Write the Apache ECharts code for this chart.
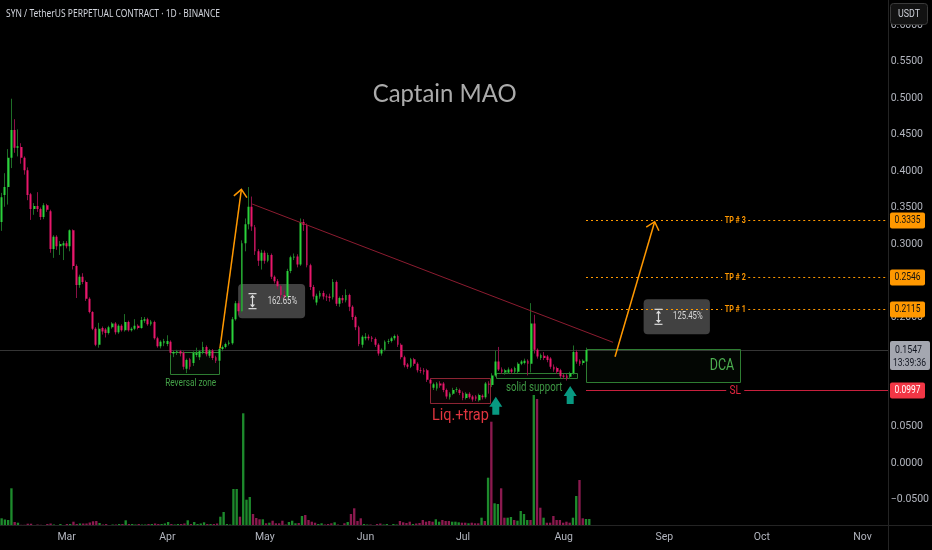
<!DOCTYPE html>
<html><head><meta charset="utf-8">
<script src="https://cdn.jsdelivr.net/npm/echarts@6/dist/echarts.min.js"></script>
<style>html,body{margin:0;padding:0;background:#000;}#c{width:932px;height:550px;}</style>
</head><body><div id="c"></div>
<script>
// ---------------- DATA ----------------
const startYear = 2024, startMonth = 1, startDay = 10;   // first daily candle: 10 Feb 2024
const dayCount = 272;                                      // visible days on the axis (to early Nov)
const monthNames = ['Jan','Feb','Mar','Apr','May','Jun','Jul','Aug','Sep','Oct','Nov','Dec'];

const opens = [
0.330,0.367,0.378,0.418,0.456,0.432,0.433,0.418,0.401,0.368,
0.348,0.352,0.348,0.337,0.353,0.345,0.293,0.310,0.297,0.298,
0.301,0.297,0.319,0.270,0.244,0.255,0.248,0.225,0.207,0.184,
0.162,0.185,0.183,0.178,0.186,0.191,0.179,0.188,0.182,0.193,
0.182,0.184,0.188,0.185,0.195,0.197,0.190,0.193,0.171,0.160,
0.164,0.163,0.166,0.150,0.151,0.153,0.151,0.129,0.142,0.137,
0.148,0.145,0.151,0.159,0.147,0.154,0.145,0.140,0.156,0.159,
0.163,0.164,0.197,0.219,0.208,0.301,0.327,0.351,0.323,0.290,
0.277,0.288,0.277,0.285,0.255,0.249,0.242,0.230,0.228,0.263,
0.281,0.283,0.272,0.330,0.326,0.271,0.241,0.220,0.228,0.233,
0.228,0.228,0.227,0.248,0.218,0.226,0.223,0.230,0.214,0.200,
0.186,0.162,0.171,0.173,0.172,0.170,0.162,0.150,0.155,0.166,
0.167,0.171,0.174,0.162,0.145,0.135,0.132,0.142,0.136,0.127,
0.127,0.127,0.114,0.103,0.102,0.109,0.109,0.100,0.090,0.095,
0.100,0.100,0.096,0.089,0.095,0.091,0.091,0.086,0.092,0.090,
0.109,0.107,0.120,0.139,0.128,0.124,0.124,0.128,0.125,0.125,
0.136,0.137,0.140,0.136,0.191,0.155,0.144,0.147,0.146,0.143,
0.132,0.130,0.127,0.120,0.120,0.118,0.123,0.152,0.140,0.137,
0.139];
const closes = [
0.364,0.378,0.418,0.456,0.432,0.434,0.418,0.401,0.367,0.348,
0.352,0.348,0.337,0.353,0.347,0.293,0.310,0.297,0.300,0.301,
0.297,0.319,0.270,0.244,0.255,0.248,0.225,0.207,0.184,0.162,
0.184,0.180,0.178,0.186,0.191,0.179,0.188,0.182,0.193,0.182,
0.184,0.188,0.185,0.196,0.197,0.190,0.194,0.171,0.160,0.166,
0.167,0.167,0.151,0.152,0.153,0.150,0.132,0.141,0.132,0.151,
0.151,0.153,0.159,0.149,0.154,0.144,0.140,0.156,0.159,0.163,
0.165,0.197,0.219,0.208,0.301,0.327,0.351,0.324,0.290,0.277,
0.288,0.277,0.285,0.255,0.249,0.242,0.230,0.228,0.263,0.282,
0.283,0.272,0.330,0.326,0.271,0.241,0.228,0.229,0.233,0.228,
0.227,0.226,0.248,0.218,0.226,0.223,0.230,0.214,0.200,0.186,
0.163,0.173,0.173,0.171,0.170,0.162,0.150,0.155,0.166,0.167,
0.171,0.174,0.162,0.145,0.134,0.132,0.142,0.136,0.127,0.126,
0.125,0.114,0.109,0.108,0.109,0.106,0.100,0.091,0.095,0.100,
0.101,0.096,0.089,0.095,0.090,0.087,0.088,0.093,0.090,0.109,
0.107,0.120,0.139,0.128,0.125,0.127,0.128,0.125,0.130,0.136,
0.139,0.140,0.136,0.191,0.155,0.146,0.148,0.144,0.141,0.132,
0.128,0.125,0.119,0.118,0.116,0.123,0.152,0.139,0.136,0.140,
0.1547];
const lows = [
0.318,0.351,0.354,0.404,0.425,0.420,0.410,0.395,0.360,0.333,
0.340,0.344,0.333,0.334,0.344,0.288,0.281,0.292,0.285,0.278,
0.294,0.290,0.265,0.226,0.240,0.245,0.222,0.205,0.182,0.160,
0.158,0.176,0.172,0.176,0.184,0.176,0.177,0.180,0.180,0.180,
0.180,0.182,0.183,0.184,0.192,0.188,0.188,0.169,0.158,0.157,
0.160,0.160,0.148,0.145,0.148,0.146,0.128,0.123,0.128,0.133,
0.145,0.141,0.149,0.146,0.144,0.141,0.137,0.138,0.153,0.157,
0.161,0.162,0.195,0.203,0.206,0.290,0.320,0.318,0.285,0.270,
0.265,0.273,0.275,0.252,0.246,0.238,0.226,0.224,0.226,0.260,
0.278,0.268,0.270,0.318,0.268,0.237,0.224,0.216,0.225,0.224,
0.222,0.221,0.224,0.215,0.214,0.219,0.220,0.208,0.196,0.182,
0.160,0.158,0.168,0.168,0.166,0.159,0.147,0.147,0.153,0.163,
0.165,0.168,0.159,0.142,0.131,0.129,0.130,0.133,0.124,0.123,
0.121,0.111,0.105,0.100,0.099,0.103,0.097,0.088,0.087,0.093,
0.097,0.093,0.086,0.087,0.088,0.084,0.085,0.084,0.087,0.088,
0.095,0.104,0.118,0.126,0.122,0.121,0.122,0.122,0.123,0.123,
0.134,0.135,0.120,0.124,0.150,0.143,0.141,0.141,0.138,0.129,
0.125,0.122,0.116,0.115,0.113,0.115,0.121,0.136,0.133,0.134,
0.137];
const highs = [
0.370,0.397,0.430,0.499,0.471,0.457,0.438,0.420,0.405,0.370,
0.356,0.371,0.350,0.356,0.355,0.347,0.312,0.312,0.304,0.304,
0.304,0.320,0.320,0.272,0.258,0.260,0.250,0.227,0.208,0.186,
0.192,0.187,0.185,0.188,0.193,0.193,0.190,0.190,0.204,0.195,
0.186,0.197,0.190,0.200,0.200,0.199,0.196,0.195,0.173,0.168,
0.170,0.175,0.168,0.154,0.155,0.155,0.153,0.143,0.144,0.153,
0.158,0.155,0.166,0.161,0.156,0.156,0.147,0.158,0.161,0.165,
0.168,0.200,0.222,0.222,0.305,0.335,0.378,0.365,0.326,0.293,
0.292,0.291,0.288,0.287,0.257,0.252,0.244,0.236,0.266,0.284,
0.287,0.286,0.335,0.334,0.328,0.273,0.244,0.232,0.236,0.236,
0.231,0.232,0.252,0.250,0.228,0.230,0.238,0.232,0.216,0.202,
0.188,0.175,0.178,0.176,0.174,0.172,0.164,0.157,0.168,0.170,
0.173,0.176,0.176,0.164,0.147,0.137,0.144,0.144,0.138,0.131,
0.130,0.129,0.116,0.110,0.111,0.112,0.111,0.102,0.097,0.103,
0.104,0.102,0.098,0.097,0.097,0.093,0.093,0.095,0.094,0.111,
0.112,0.123,0.154,0.159,0.131,0.129,0.131,0.130,0.132,0.138,
0.141,0.143,0.142,0.219,0.203,0.157,0.150,0.152,0.148,0.145,
0.135,0.132,0.129,0.122,0.122,0.125,0.161,0.155,0.142,0.142,
0.158];
// volume, millions
const volumes = [
0.77,0.65,0.60,3.77,0.40,0.33,0.12,0.12,0.23,0.23,
0.10,0.15,0.12,0.10,0.20,0.25,0.15,0.10,0.20,0.10,
0.20,0.20,0.43,0.20,0.25,0.25,0.25,0.35,0.47,0.50,
0.30,0.15,0.20,0.10,0.15,0.15,0.20,0.20,0.57,0.20,
0.20,0.15,0.20,0.15,0.15,0.20,0.20,0.25,0.20,0.20,
0.25,0.40,0.20,0.15,0.20,0.20,0.25,0.57,0.20,0.40,
0.20,0.25,0.37,0.20,0.20,0.20,0.25,0.93,1.40,0.20,
0.15,3.70,3.70,0.93,11.27,2.63,2.90,1.20,0.80,0.67,
0.67,0.27,0.33,0.53,0.27,0.27,0.53,0.15,0.40,0.53,
0.27,0.30,1.00,1.10,0.60,0.43,0.33,0.20,0.27,0.15,
0.20,0.27,0.37,0.15,0.10,0.27,0.40,1.20,1.77,0.50,
0.77,0.20,0.15,0.15,0.10,0.20,0.25,0.15,0.20,0.10,
0.20,0.15,0.50,0.37,0.30,0.43,0.20,0.25,0.30,0.60,
0.43,0.50,0.43,0.67,0.43,0.60,0.50,0.50,0.43,0.43,
0.37,0.33,0.33,0.27,0.33,0.27,0.27,0.83,0.50,4.83,
10.43,2.27,2.20,3.77,0.83,0.83,0.90,0.60,0.53,1.50,
1.20,0.60,0.60,13.10,12.70,1.83,0.83,0.33,0.33,1.00,
0.60,0.60,0.33,0.43,0.33,0.83,3.00,4.60,0.77,0.70,
0.70];
const lastPrice = 0.1547, countdown = '13:39:36';
const tpLevels = [0.3335, 0.2546, 0.2115];
const tpNames = ['TP # 3', 'TP # 2', 'TP # 1'];
const slLevel = 0.0997;
const priceMin = -0.1, priceMax = 0.63425, priceStep = 0.05;

// ------------- drawing anchors: [day index, price] -------------
const rallyArrow = [[67.2, 0.1571], [73.8, 0.3749]];
const targetArrow = [[188.8, 0.1456], [201.0, 0.3305]];
const trendLine = [[77.1, 0.3548], [188.2, 0.1653]];
const measure1 = [72.8, 93.4, 0.2452, 0.1982], measure1Text = '162.65%';
const measure2 = [197.6, 218.0, 0.2242, 0.1763], measure2Text = '125.45%';
const reversalBox = [51.8, 66.9, 0.1520, 0.1220], reversalText = [58.2, 0.1095];
const liqBox = [131.9, 150.2, 0.1160, 0.0818], liqText = [141.2, 0.0644];
const supportBox = [152.1, 177.2, 0.1229, 0.1160], supportText = [163.9, 0.1021];
const tealArrows = [[152.1, 0.0784], [175.0, 0.0932]];
const dcaBox = [179.8, 227.2, 0.1562, 0.1105], dcaText = [225.5, 0.1329];
const levelStart = 179.8, levelLabelAt = 225.8;

// ---------------- CHART ----------------
const dates = [];
for (let k = 0; k < dayCount; k++) {
  const d = new Date(Date.UTC(startYear, startMonth, startDay + k));
  dates.push(d.toISOString().slice(0, 10));
}
const candleData = opens.map((o, k) => [o, closes[k], lows[k], highs[k]]);
const upC = '#2ad23b', downC = '#e8176b', wickUp = '#1e6e27', wickDown = '#8a1046';
const volUp = '#1d8a2c', volDown = '#8b1a4f';
const volData = volumes.map((v, k) => ({ value: v, itemStyle: { color: closes[k] >= opens[k] ? volUp : volDown } }));
const FONT = "Roboto, 'Noto Sans', sans-serif";

const chart = echarts.init(document.getElementById('c'), null, { renderer: 'canvas' });
chart.setOption({
  backgroundColor: '#000000',
  animation: false,
  grid: [
    { left: -2, right: 44, top: 0, bottom: 14 },
    { left: -2, right: 44, top: 0, bottom: 24 }
  ],
  xAxis: [
    { type: 'category', gridIndex: 0, data: dates, boundaryGap: true, offset: -11,
      axisLine: { show: false }, axisTick: { show: false }, splitLine: { show: false },
      axisLabel: { color: '#b2b5be', fontSize: 10.5, fontFamily: FONT, margin: 7,
        interval: (idx, val) => val.slice(8) === '01',
        formatter: val => monthNames[parseInt(val.slice(5, 7), 10) - 1] } },
    { type: 'category', gridIndex: 1, data: dates, boundaryGap: true, show: false }
  ],
  yAxis: [
    { type: 'value', gridIndex: 0, position: 'right', min: priceMin, max: priceMax, interval: priceStep, scale: false,
      axisLine: { show: false }, axisTick: { show: false }, splitLine: { show: false },
      axisLabel: { color: '#b2b5be', fontSize: 10.5, fontFamily: FONT, margin: 7, align: 'left', showMinLabel: false, showMaxLabel: false,
        formatter: v => { if (v < -0.09 || v > 0.62) return ''; const s = Math.abs(v).toFixed(4); return v < -1e-9 ? '\u2212' + s : s; } } },
    { type: 'value', gridIndex: 1, min: 0, max: 52.6, show: false }
  ],
  series: [
    { type: 'bar', name: 'Volume', xAxisIndex: 1, yAxisIndex: 1, data: volData, barWidth: '72%', z: 1, silent: true },
    { type: 'candlestick', name: 'wicks', xAxisIndex: 0, yAxisIndex: 0, data: candleData, barWidth: 1, z: 2, silent: true,
      itemStyle: { color: wickUp, color0: wickDown, borderColor: wickUp, borderColor0: wickDown, borderWidth: 1 } },
    { type: 'candlestick', name: 'SYNUSDT.P', xAxisIndex: 0, yAxisIndex: 0, data: candleData, barWidth: '72%', z: 3, silent: true,
      itemStyle: { color: upC, color0: downC, borderColor: upC, borderColor0: downC, borderWidth: 0 } }
  ]
});

// ---------------- ANNOTATIONS (placed via the chart's own scales) ----------------
const X = i => {
  const a = Math.max(0, Math.min(dates.length - 2, Math.floor(i)));
  const p0 = chart.convertToPixel({ xAxisIndex: 0 }, dates[a]);
  const p1 = chart.convertToPixel({ xAxisIndex: 0 }, dates[a + 1]);
  return p0 + (p1 - p0) * (i - a);
};
const Y = p => chart.convertToPixel({ yAxisIndex: 0 }, p);
const plotRight = chart.getWidth() - 44;
const mctx = document.createElement('canvas').getContext('2d');
const G = [];
function seg(x1, y1, x2, y2, stroke, w, dash, z) {
  return { type: 'line', silent: true, z: z || 100, shape: { x1, y1, x2, y2 }, style: { stroke, lineWidth: w || 1, lineDash: dash || null } };
}
function rect(x, y, w, h, fill, stroke, r, z) {
  return { type: 'rect', silent: true, z: z || 1, shape: { x, y, width: w, height: h, r: r || 0 }, style: { fill: fill || 'none', stroke: stroke || 'none', lineWidth: 1 } };
}
function poly(points, fill, z) { return { type: 'polygon', silent: true, z: z || 100, shape: { points }, style: { fill } }; }
function pline(points, stroke, w, z) { return { type: 'polyline', silent: true, z: z || 100, shape: { points }, style: { stroke, lineWidth: w, fill: null } }; }
function txt(str, x, y, size, color, align, targetW, weight, family, z) {
  weight = weight || 'normal'; family = family || FONT;
  const font = weight + ' ' + size + 'px ' + family;
  mctx.font = font;
  const w = mctx.measureText(str).width;
  const sx = targetW ? targetW / w : 1;
  return { type: 'text', x, y, scaleX: sx, scaleY: 1, silent: true, z: z || 110,
    style: { text: str, fill: color, font, fontSize: size, fontFamily: family, fontWeight: weight,
      textAlign: align, align: align, textVerticalAlign: 'middle', verticalAlign: 'middle' } };
}
function arrow(pts, color) {
  const x1 = X(pts[0][0]), y1 = Y(pts[0][1]), x2 = X(pts[1][0]), y2 = Y(pts[1][1]);
  const a = Math.atan2(y2 - y1, x2 - x1), L = 10, s = 0.72;
  G.push(seg(x1, y1, x2, y2, color, 1.5));
  G.push(pline([[x2 - L * Math.cos(a - s), y2 - L * Math.sin(a - s)], [x2, y2], [x2 - L * Math.cos(a + s), y2 - L * Math.sin(a + s)]], color, 1.5));
}
function measure(b, label) {
  const x1 = X(b[0]), x2 = X(b[1]), y1 = Y(b[2]), y2 = Y(b[3]);
  G.push(rect(x1, y1, x2 - x1, y2 - y1, 'rgba(70,70,70,0.92)', null, 4, 1));
  const cx = Math.round(x1 + 14) + 0.5, cy = (y1 + y2) / 2, c = '#dedede';
  G.push(seg(cx - 4, cy - 7.5, cx + 4, cy - 7.5, c, 1.2));
  G.push(seg(cx - 4, cy + 7.5, cx + 4, cy + 7.5, c, 1.2));
  G.push(seg(cx, cy - 4, cx, cy + 4, c, 1.2));
  G.push(poly([[cx, cy - 6.3], [cx - 2.6, cy - 3.3], [cx + 2.6, cy - 3.3]], c));
  G.push(poly([[cx, cy + 6.3], [cx - 2.6, cy + 3.3], [cx + 2.6, cy + 3.3]], c));
  G.push(txt(label, x1 + 29.5, cy, 10.5, '#d9d9d9', 'left', 29.5));
}
function box(b, stroke, fill) {
  const x1 = Math.round(X(b[0])) + 0.5, x2 = Math.round(X(b[1])) + 0.5, y1 = Math.round(Y(b[2])) + 0.5, y2 = Math.round(Y(b[3])) + 0.5;
  G.push(rect(x1, y1, x2 - x1, y2 - y1, fill, stroke, 0, 1));
}
function tag(price, bg, fg, label) {
  const y = Y(price);
  G.push(rect(890, Math.round(y) - 7.5, 35, 16, bg, null, 2, 120));
  G.push(txt(label, 907.5, y + 0.5, 10.5, fg, 'center', 26, 'normal', FONT, 121));
}

// frame lines
G.push(seg(plotRight + 0.5, 0, plotRight + 0.5, 550, '#242424', 1, null, 5));
G.push(seg(0, 525.5, 932, 525.5, '#242424', 1, null, 5));
// last price line
const yLast = Math.round(Y(lastPrice)) + 0.5;
G.push(seg(0, yLast, plotRight, yLast, '#353535', 1, null, 1));

// title and watermark text
G.push(txt('SYN / TetherUS PERPETUAL CONTRACT \u00b7 1D \u00b7 BINANCE', 6, 14, 10.5, '#d1d4dc', 'left', 214, 'normal', "'Noto Sans', sans-serif"));
G.push(txt('Captain MAO', 444.7, 94, 25, '#ababab', 'center', 144, 'normal', "Lato, 'Noto Sans', sans-serif"));

// trend line and arrows
const tl = trendLine;
G.push(seg(X(tl[0][0]), Y(tl[0][1]), X(tl[1][0]), Y(tl[1][1]), '#8c1c30', 1, null, 100));
arrow(rallyArrow, '#ff9800');
arrow(targetArrow, '#ff9800');
measure(measure1, measure1Text);
measure(measure2, measure2Text);

// zones
box(reversalBox, '#2e7d32', 'rgba(76,175,80,0.04)');
G.push(txt('Reversal zone', X(reversalText[0]), Y(reversalText[1]), 10.5, '#43a047', 'center', 51));
box(liqBox, '#8c2433', 'rgba(242,54,69,0.04)');
G.push(txt('Liq.+trap', X(liqText[0]), Y(liqText[1]), 17, '#e0353f', 'center', 57));
box(supportBox, '#2e7d32', 'rgba(76,175,80,0.03)');
G.push(txt('solid support', X(supportText[0]), Y(supportText[1]), 12, '#3f9a45', 'center', 56.5));
tealArrows.forEach(p => {
  const cx = X(p[0]), cy = Y(p[1]);
  G.push(poly([[cx, cy - 9], [cx + 6.5, cy + 1], [cx + 3.5, cy + 1], [cx + 3.5, cy + 9], [cx - 3.5, cy + 9], [cx - 3.5, cy + 1], [cx - 6.5, cy + 1]], '#089981'));
});
box(dcaBox, '#2e7d32', 'rgba(76,175,80,0.035)');
G.push(txt('DCA', X(dcaText[0]), Y(dcaText[1]), 17, '#4caf50', 'right', 24.5));

// target and stop levels
const lx0 = Math.round(X(levelStart)), lxc = X(levelLabelAt);
tpLevels.forEach((p, k) => {
  const y = Math.round(Y(p)) + 0.5;
  G.push(seg(lx0, y, lxc - 13, y, '#ff9800', 1, [2, 3], 90));
  G.push(seg(lxc + 13, y, plotRight, y, '#ff9800', 1, [2, 3], 90));
  G.push(txt(tpNames[k], lxc, y, 9, '#ff9800', 'center', 21, 'bold'));
});
const ySL = Math.round(Y(slLevel)) + 0.5;
G.push(seg(lx0, ySL, lxc - 9, ySL, '#c8203d', 1, null, 90));
G.push(seg(lxc + 9, ySL, plotRight, ySL, '#c8203d', 1, null, 90));
G.push(txt('SL', lxc, ySL, 13, '#e0263f', 'center', 11.5));

// right price tags
tpLevels.forEach(p => tag(p, '#ff9800', '#111111', p.toFixed(4)));
tag(slLevel, '#f23645', '#ffffff', slLevel.toFixed(4));
const yl = Y(lastPrice);
G.push(rect(890, Math.round(yl) - 9, 40, 29, '#a4a7b0', null, 2, 120));
G.push(txt(lastPrice.toFixed(4), 908.5, yl, 10.5, '#131722', 'center', 27, 'normal', FONT, 121));
G.push(txt(countdown, 909.5, yl + 13, 10, '#131722', 'center', 33, 'normal', FONT, 121));

// USDT currency button
G.push({ type: 'rect', silent: true, z: 130, shape: { x: 890.5, y: 3.5, width: 37, height: 21, r: 3 }, style: { fill: '#121212', stroke: '#3a3a3a', lineWidth: 1 } });
G.push(txt('USDT', 909, 14, 10, '#d1d4dc', 'center', 22, 'normal', FONT, 131));

chart.setOption({ graphic: { elements: G } });
</script>
</body></html>
